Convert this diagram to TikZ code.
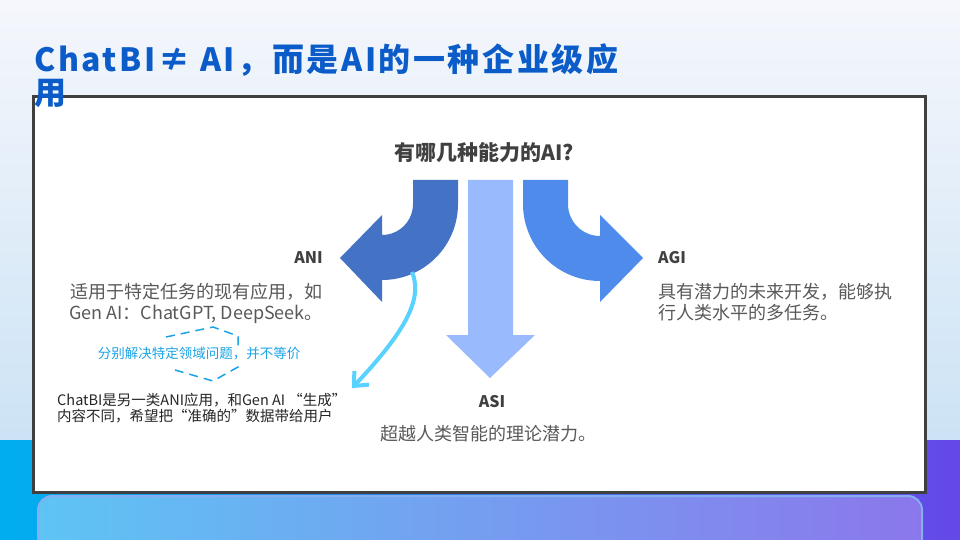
\documentclass[tikz,border=0pt]{standalone}
\usepackage{fontspec}
\setmainfont{Noto Sans CJK SC}
\newfontfamily\titlefont[LetterSpace=8]{Noto Sans CJK SC}
\usetikzlibrary{arrows.meta,positioning}

\definecolor{titleblue}{HTML}{0B5CC9}
\definecolor{txtgray}{HTML}{595959}
\definecolor{headgray}{HTML}{404040}
\definecolor{chatblack}{HTML}{262626}
\definecolor{arrowdark}{HTML}{4472C4}
\definecolor{arrowlight}{HTML}{99BBFD}
\definecolor{arrowmid}{HTML}{4F8BEA}
\definecolor{linkcyan}{HTML}{5AD2FF}
\definecolor{notecyan}{HTML}{1AA3E6}
\definecolor{bgtop}{HTML}{F5F7FC}
\definecolor{bgbot}{HTML}{CCE3F5}
\definecolor{bandleft}{HTML}{00AEEF}
\definecolor{bandright}{HTML}{6548E8}
\definecolor{boxleft}{HTML}{5EC4F4}
\definecolor{boxright}{HTML}{8B77EC}
\definecolor{frame}{HTML}{404040}

\begin{document}
\begin{tikzpicture}[x=1pt, y=-1pt, >=Stealth,
  every node/.style={inner sep=0pt, text=txtgray},
  titletext/.style={font=\titlefont\fontsize{32}{34}\selectfont\bfseries, text=titleblue},
  question/.style={font=\fontsize{21}{24}\selectfont\bfseries, text=headgray},
  kind/.style={font=\fontsize{16}{19}\selectfont\bfseries, text=headgray},
  desc/.style={font=\fontsize{18}{21}\selectfont, text=txtgray},
  note/.style={font=\fontsize{13.5}{16}\selectfont, text=notecyan, fill=white, inner sep=2pt},
  chat/.style={font=\fontsize{14.5}{16}\selectfont, text=chatblack}]

  \useasboundingbox (0,0) rectangle (960,540);

  % Background
  \shade[top color=bgtop, bottom color=bgbot] (0,0) rectangle (960,440);
  \shade[left color=bandleft, right color=bandright] (0,440) rectangle (960,540);
  \shade[left color=boxleft, right color=boxright, draw=arrowmid!70, line width=2, rounded corners=14] (38,496) rectangle (922,570);

  % Main panel
  \draw[line width=3, draw=frame, fill=white] (33,97) rectangle (925,492);

  % Title
  \node[titletext, anchor=base west] (title) at (34,72) {ChatBI≠ AI，而是AI的一种企业级应};
  \node[titletext, anchor=base west] (titlewrap) at (34,105) {用};

  \node[question] (ask) at (484,153) {有哪几种能力的AI?};

  % ANI arrow (turns left)
  \fill[arrowdark] (413,180) -- (413,204) arc[start angle=0, end angle=90, radius=31]
    -- (382,215) -- (340,258) -- (382,302) -- (382,280)
    arc[start angle=90, end angle=0, radius=76] -- (458,180) -- cycle;
  % ASI arrow (straight down)
  \fill[arrowlight] (468,180) -- (468,335) -- (446,335) -- (490,378) -- (535,335)
    -- (513,335) -- (513,180) -- cycle;
  % AGI arrow (turns right)
  \fill[arrowmid] (523,180) -- (523,204) arc[start angle=180, end angle=90, radius=77]
    -- (600,302) -- (643,258) -- (600,215) -- (600,236)
    arc[start angle=90, end angle=180, radius=32] -- (568,180) -- cycle;

  % ANI
  \node[kind, anchor=east] (ani) at (323,258) {ANI};
  \node[desc, anchor=north east, align=right] (anidesc) at (323,283) {适用于特定任务的现有应用，如\\Gen AI：ChatGPT, DeepSeek。};

  % Dashed remark
  \draw[notecyan, line width=1.5, dash pattern=on 9pt off 6pt]
    (166,337) -- (213,327) -- (238,336) -- (238,367) -- (213,381) -- (175,370);
  \node[note] (remark) at (199,354) {分别解决特定领域问题，并不等价};

  % ChatBI
  \node[chat, anchor=north west, align=left] (chatbi) at (57,393) {ChatBI是另一类ANI应用，和Gen AI “生成”\\内容不同，希望把“准确的”数据带给用户};
  \coordinate (anilow) at (412,272);
  \coordinate (chatlink) at (352,388);
  \draw[linkcyan, line width=4, -{Straight Barb[length=11pt, width=20pt]}]
    (anilow) .. controls (424,300) and (402,335) .. (chatlink);

  % ASI
  \node[kind] (asi) at (492,402) {ASI};
  \node[desc] (asidesc) at (488,434) {超越人类智能的理论潜力。};

  % AGI
  \node[kind, anchor=west] (agi) at (658,258) {AGI};
  \node[desc, anchor=north west, align=left] (agidesc) at (658,283) {具有潜力的未来开发，能够执\\行人类水平的多任务。};
\end{tikzpicture}
\end{document}
